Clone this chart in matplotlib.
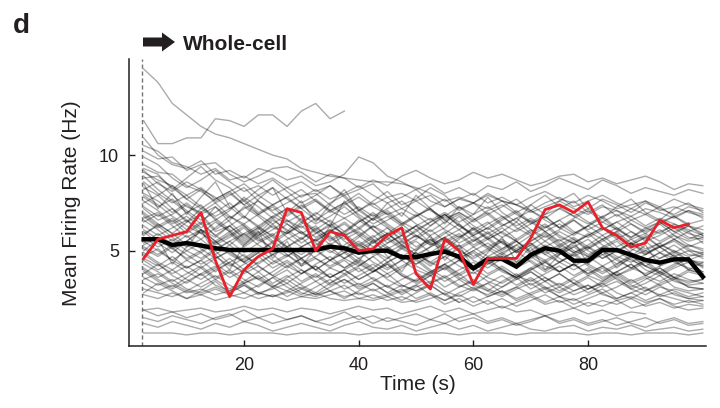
import matplotlib
matplotlib.use('Agg')

import numpy as np
import matplotlib.pyplot as plt
from matplotlib.patches import FancyArrow

plt.rcParams['font.family'] = ['Liberation Sans', 'DejaVu Sans']
TXT = '#231f20'

# time bins (s)
time = np.arange(2.5, 100.01, 2.5)

# example cell (red)
example_cell = [4.6, 5.6, 5.8, 6.0, 7.0, 4.5, 2.6, 4.0, 4.7, 5.1, 7.2, 7.0, 5.0, 6.0,
                5.8, 5.0, 5.1, 5.8, 6.2, 3.8, 3.0, 5.6, 5.0, 3.25, 4.6, 4.6, 4.6,
                5.65, 7.15, 7.4, 7.0, 7.55, 6.2, 5.8, 5.2, 5.4, 6.6, 6.2, 6.4]

# population mean (black)
mean_rate = [5.6, 5.6, 5.3, 5.4, 5.27, 5.13, 5.04, 5.04, 5.04, 5.04, 5.04, 5.04, 5.04,
             5.21, 5.13, 4.9, 5.0, 5.0, 4.66, 4.66, 4.83, 4.95, 4.69, 4.08, 4.57,
             4.57, 4.17, 4.78, 5.13, 5.0, 4.48, 4.48, 5.04, 5.04, 4.78, 4.52, 4.38,
             4.55, 4.55, 3.64]

# individual cells (grey)
cells = [
    [14.5, 13.8, 12.7, 12.1, 11.5, 11.1, 10.9, 10.6, 10.3, 10.0, 9.8, 9.3, 9.1, 8.9, 8.8, 8.7, 8.6, 8.6, 8.5, 8.3,
     8.0, 7.6, 7.8, 7.5, 7.9, 7.6, 7.4, 7.8, 8.1, 7.7, 7.5, 7.9, 7.6, 7.2, 7.4, 7.6, 7.1, 7.3, 7.0, 6.8],
    [11.8, 10.6, 10.6, 10.9, 10.9, 11.9, 11.8, 11.5, 12.1, 12.1, 11.5, 12.3, 12.7, 11.9, 12.3],
    [10.9, 10.0, 9.5, 9.3, 9.7, 9.0, 9.2, 8.8, 9.3, 9.1, 8.7, 8.9, 8.4, 8.6, 9.0, 9.9, 9.6, 8.9, 8.6, 8.2,
     8.5, 8.0, 8.3, 7.9, 8.4, 8.2, 8.6, 8.1, 8.4, 8.8, 8.5, 8.2, 8.7, 8.4, 8.0, 8.3, 8.1, 7.9, 8.2, 8.0],
    [10.5, 10.2, 9.6, 9.4, 9.0, 9.3, 8.7, 8.9, 8.5, 8.8, 8.3, 8.6, 8.1, 8.4, 7.9, 8.2, 8.5, 7.8, 8.0, 7.6,
     7.9, 7.3, 7.7, 7.5, 7.2, 7.6, 7.4, 7.0, 7.3, 7.6, 7.2, 6.9, 7.3, 7.1, 6.8, 7.2, 7.0, 6.7, 7.1, 6.9],
    [10.2, 9.8, 9.9, 9.2, 9.5, 9.6, 9.0, 8.6, 8.9, 9.3, 9.4, 9.1, 8.6, 9.0, 8.8, 8.3, 8.7, 8.4, 8.9, 9.2,
     8.8, 8.5, 8.7, 9.1, 8.8, 9.0, 8.7, 8.4, 8.6, 8.9, 9.0, 8.6, 8.8, 8.5, 8.7, 8.9, 8.6, 8.2, 8.5, 8.4],
    [9.9, 9.5, 8.8, 8.3, 8.7, 9.2, 8.6, 8.1, 8.4, 7.9, 8.3, 7.8, 8.2, 7.7, 8.0, 8.4, 7.9, 7.5, 7.8, 8.2,
     7.6, 7.3, 7.7, 8.0, 7.5, 7.8, 7.4, 7.1, 7.5, 7.8, 7.3, 7.6, 7.9, 7.5, 7.2, 7.6, 7.3, 7.7, 7.4, 7.2],
    [9.5, 9.1, 9.0, 8.4, 8.1, 7.6, 8.0, 7.4, 7.9, 8.3, 7.7, 7.2, 7.6, 7.0, 7.4, 7.8, 7.3, 6.9, 7.2, 7.6,
     7.1, 6.7, 7.0, 6.6, 7.1, 7.4, 6.9, 6.5, 6.9, 7.2, 6.8, 6.4, 6.8, 7.1, 6.6, 6.9, 6.5, 6.8, 6.4, 6.6],
    [9.2, 8.5, 8.1, 8.6, 8.2, 7.5, 7.9, 8.3, 7.6, 7.1, 7.5, 7.9, 8.0, 7.4, 6.9, 7.3, 6.8, 7.2, 7.6, 7.0,
     6.6, 7.0, 6.5, 6.9, 7.3, 6.8, 6.3, 6.7, 6.2, 6.6, 7.0, 6.5, 6.1, 6.5, 6.8, 6.3, 6.7, 6.4, 6.0, 6.3],
    [8.8, 8.9, 8.3, 7.7, 8.2, 7.8, 7.2, 7.7, 7.0, 7.4, 6.8, 7.3, 7.7, 7.1, 6.7, 7.1, 7.5, 6.9, 6.4, 6.8,
     7.2, 6.6, 7.0, 6.5, 6.9, 6.3, 6.7, 7.1, 6.6, 6.2, 6.6, 6.1, 6.5, 6.9, 6.4, 6.0, 6.4, 6.8, 6.3, 6.1],
    [8.6, 8.0, 7.5, 7.9, 7.3, 6.8, 7.2, 7.6, 6.9, 6.4, 6.9, 7.4, 6.8, 6.3, 6.7, 6.2, 6.7, 7.1, 6.5, 6.1,
     6.5, 6.9, 6.3, 5.9, 6.4, 6.8, 6.2, 5.8, 6.2, 6.6, 6.0, 5.7, 6.1, 6.5, 6.0, 5.6, 6.0, 6.3, 5.9, 5.7],
    [8.3, 7.9, 8.4, 7.7, 7.2, 7.7, 8.1, 7.4, 6.9, 7.4, 7.8, 7.2, 6.6, 7.1, 7.5, 6.9, 6.4, 6.8, 6.3, 6.8,
     7.2, 6.6, 6.1, 6.6, 7.0, 6.4, 6.0, 6.4, 6.8, 6.2, 5.8, 6.3, 6.7, 6.1, 5.7, 6.2, 6.5, 6.0, 5.6, 5.9],
    [8.0, 7.6, 7.0, 7.5, 6.9, 7.3, 6.7, 7.2, 7.6, 7.0, 6.5, 6.9, 6.4, 6.8, 7.3, 6.7, 6.2, 6.6, 7.0, 6.4,
     6.0, 6.5, 6.9, 6.3, 5.9, 6.3, 6.7, 6.1, 5.7, 6.1, 6.6, 6.0, 5.6, 6.0, 6.4, 5.9, 5.5, 5.9, 6.3, 5.8],
    [7.8, 7.3, 7.7, 7.1, 6.6, 7.0, 7.5, 6.8, 6.3, 6.8, 7.2, 6.6, 6.1, 6.6, 6.0, 6.5, 6.9, 6.3, 5.8, 6.3,
     6.7, 6.1, 5.7, 6.1, 6.5, 5.9, 5.5, 6.0, 6.4, 5.8, 5.4, 5.8, 6.2, 5.7, 5.3, 5.7, 6.1, 5.6, 5.2, 5.5],
    [7.5, 7.9, 7.2, 6.5, 6.9, 6.1, 6.6, 7.3, 6.8, 6.2, 5.9, 6.4, 7.0, 6.5, 5.8, 6.1, 6.7, 6.2, 5.6, 6.0,
     6.5, 6.9, 6.3, 5.8, 6.2, 5.7, 6.1, 6.6, 6.0, 5.5, 5.9, 6.3, 5.8, 6.2, 5.6, 5.9, 6.4, 5.8, 5.5, 5.7],
    [7.2, 6.6, 6.9, 7.4, 6.8, 6.0, 6.3, 5.7, 6.2, 6.8, 6.4, 5.9, 6.3, 5.6, 6.0, 6.6, 6.1, 5.4, 5.8, 6.3,
     5.7, 5.2, 5.7, 6.2, 5.6, 6.0, 5.5, 5.0, 5.5, 6.0, 5.6, 5.1, 5.5, 5.9, 5.3, 5.7, 5.2, 5.6, 6.0, 5.4],
    [7.0, 6.4, 5.9, 6.5, 7.2, 6.7, 6.1, 5.5, 6.0, 5.4, 5.9, 6.5, 6.0, 5.3, 5.8, 6.2, 5.6, 5.1, 5.5, 6.1,
     5.4, 5.9, 6.4, 5.7, 5.2, 5.6, 5.1, 5.5, 6.0, 5.4, 4.9, 5.3, 5.8, 5.2, 5.6, 5.1, 5.4, 4.9, 5.3, 5.0],
    [6.8, 6.2, 6.6, 5.9, 6.4, 7.3, 6.5, 5.8, 6.2, 5.5, 6.0, 6.7, 5.9, 6.3, 7.6, 6.8, 6.1, 5.6, 6.2, 5.7,
     6.3, 6.9, 6.4, 5.8, 6.2, 6.7, 7.1, 6.5, 6.0, 6.4, 5.9, 6.3, 6.8, 6.2, 5.7, 6.1, 6.5, 6.0, 6.3, 5.9],
    [6.5, 6.9, 6.3, 5.7, 6.1, 5.5, 6.0, 5.3, 5.8, 6.4, 5.7, 5.2, 5.6, 6.1, 5.5, 5.0, 5.4, 5.9, 5.3, 4.8,
     5.2, 5.7, 5.1, 5.5, 6.0, 5.4, 4.9, 5.3, 5.8, 5.2, 4.7, 5.1, 5.6, 5.0, 5.4, 4.9, 5.2, 5.6, 5.1, 4.8],
    [6.3, 5.8, 6.2, 6.6, 5.9, 5.4, 5.8, 6.3, 5.6, 5.1, 5.6, 6.0, 5.4, 4.9, 5.3, 5.8, 5.2, 5.6, 5.1, 4.7,
     5.2, 5.6, 5.0, 4.6, 5.0, 5.5, 4.9, 5.3, 4.8, 5.2, 5.6, 5.0, 4.6, 5.0, 5.4, 4.8, 5.2, 4.7, 5.0, 4.6],
    [6.1, 5.6, 5.1, 5.5, 6.0, 5.3, 5.7, 6.2, 5.5, 5.9, 5.2, 4.8, 5.3, 5.8, 5.1, 5.5, 5.0, 4.6, 5.1, 5.5,
     4.9, 5.4, 5.8, 5.2, 4.7, 5.1, 5.5, 4.9, 4.5, 4.9, 5.3, 4.8, 5.2, 4.7, 4.4, 4.8, 5.2, 4.7, 4.5, 4.3],
    [5.9, 6.3, 5.7, 5.2, 5.6, 5.0, 5.5, 5.9, 5.3, 4.8, 5.2, 5.7, 5.0, 5.4, 4.9, 5.3, 5.8, 5.2, 4.7, 5.1,
     5.6, 5.0, 4.6, 5.0, 5.4, 4.9, 5.3, 4.8, 4.4, 4.8, 5.2, 4.7, 5.1, 5.5, 4.9, 4.5, 4.9, 4.6, 4.4, 4.2],
    [5.7, 5.2, 5.6, 5.0, 4.6, 5.1, 5.5, 4.9, 5.4, 5.8, 5.1, 4.6, 5.0, 4.5, 4.9, 5.4, 4.8, 5.2, 4.7, 4.3,
     4.8, 5.2, 4.6, 5.0, 4.5, 4.9, 4.4, 4.8, 5.2, 4.6, 4.2, 4.6, 5.0, 4.5, 4.1, 4.5, 4.9, 4.4, 4.1, 3.9],
    [5.5, 5.0, 4.5, 5.0, 5.4, 4.8, 5.3, 4.7, 4.3, 4.8, 5.2, 4.6, 5.1, 4.5, 4.1, 4.6, 5.0, 4.4, 4.8, 4.3,
     4.7, 5.1, 4.5, 4.0, 4.4, 4.8, 4.3, 4.7, 4.2, 3.9, 4.3, 4.7, 4.2, 4.6, 4.1, 3.8, 4.2, 4.5, 4.0, 3.8],
    [5.3, 5.7, 5.1, 4.6, 5.0, 5.5, 4.8, 4.4, 4.9, 4.3, 4.7, 5.2, 4.6, 4.2, 4.6, 5.0, 4.4, 4.0, 4.5, 4.9,
     4.3, 4.7, 4.2, 3.8, 4.3, 4.7, 4.1, 4.5, 4.0, 4.4, 4.8, 4.2, 3.8, 4.2, 4.6, 4.0, 3.7, 4.1, 4.4, 3.9],
    [5.1, 4.7, 5.2, 4.5, 4.1, 4.6, 5.0, 4.4, 3.9, 4.4, 4.8, 4.2, 4.6, 4.1, 3.8, 4.2, 4.7, 4.1, 4.5, 4.0,
     3.7, 4.1, 4.5, 4.0, 4.4, 3.9, 3.6, 4.0, 4.4, 3.9, 4.3, 3.8, 4.2, 3.7, 4.0, 4.4, 3.8, 3.5, 3.9, 3.7],
    [4.9, 4.4, 4.0, 4.5, 4.9, 4.3, 3.8, 4.3, 4.7, 4.1, 4.5, 4.0, 3.6, 4.1, 4.5, 3.9, 4.3, 3.8, 4.2, 4.6,
     4.0, 3.6, 4.0, 4.4, 3.8, 4.2, 3.7, 3.4, 3.8, 4.2, 3.7, 4.1, 3.6, 3.9, 4.3, 3.7, 3.4, 3.8, 3.5, 3.3],
    [4.7, 5.1, 4.5, 4.1, 4.5, 3.9, 4.4, 4.8, 4.2, 3.7, 4.2, 4.6, 4.0, 3.6, 4.0, 4.4, 3.9, 4.3, 3.7, 3.4,
     3.9, 4.3, 3.7, 4.1, 3.6, 3.3, 3.7, 4.1, 3.6, 3.2, 3.6, 4.0, 3.5, 3.9, 3.4, 3.7, 4.1, 3.6, 3.3, 3.5],
    [4.5, 4.0, 4.4, 3.9, 3.5, 4.0, 4.4, 3.8, 4.2, 3.7, 3.3, 3.8, 4.2, 3.6, 4.0, 3.5, 3.9, 4.3, 3.7, 3.3,
     3.7, 4.1, 3.5, 3.9, 3.4, 3.1, 3.5, 3.9, 3.4, 3.8, 3.3, 3.0, 3.4, 3.8, 3.3, 3.6, 3.2, 3.5, 3.1, 3.0],
    [4.3, 3.9, 3.4, 3.8, 4.2, 3.6, 4.0, 3.5, 3.1, 3.6, 4.0, 3.4, 3.8, 3.3, 3.7, 4.1, 3.5, 3.1, 3.5, 3.9,
     3.3, 3.7, 3.2, 2.9, 3.3, 3.7, 3.2, 3.6, 3.1, 2.8, 3.2, 3.6, 3.1, 3.4, 3.0, 3.3, 3.7, 3.1, 2.9, 3.0],
    [4.1, 3.6, 4.0, 3.5, 3.1, 3.5, 3.9, 3.3, 3.7, 3.2, 2.9, 3.3, 3.7, 3.2, 3.5, 3.1, 3.4, 3.8, 3.2, 2.9,
     3.3, 3.6, 3.1, 3.5, 3.0, 2.7, 3.1, 3.5, 3.0, 3.3, 2.9, 3.2, 2.8, 3.1, 3.5, 3.0, 2.7, 3.0, 2.8, 2.6],
    [3.9, 3.4, 3.0, 3.4, 3.8, 3.2, 2.9, 3.3, 3.6, 3.1, 3.5, 3.0, 2.7, 3.1, 3.5, 3.0, 3.3, 2.8, 3.2, 2.9,
     3.2, 2.7, 3.1, 3.4, 2.9, 2.6, 3.0, 3.3, 2.8, 3.1, 2.7, 3.0, 3.3, 2.8, 2.5, 2.9, 3.2, 2.7, 2.5, 2.6],
    [3.6, 3.2, 3.5, 3.0, 2.8, 3.1, 2.8, 3.2, 2.8, 3.0, 3.3, 2.8, 2.6, 2.9, 3.2, 2.7, 3.0, 2.6, 2.9, 3.2,
     2.7, 2.4, 2.8, 3.1, 2.6, 2.9, 2.5, 2.8, 3.1, 2.6, 2.4, 2.7, 3.0, 2.5, 2.8, 2.4, 2.7, 2.5, 2.3, 2.4],
    [3.3, 2.9, 3.2, 2.8, 3.0, 2.7, 2.9, 3.3, 2.8, 2.6, 2.8, 3.1, 2.7, 2.9, 2.6, 2.8, 2.5, 2.7, 3.0, 2.5,
     2.8, 2.4, 2.7, 2.3, 2.6, 2.9, 2.4, 2.7, 2.3, 2.6, 2.2, 2.5, 2.8, 2.4, 2.6, 2.3, 2.5, 2.2, 2.4, 2.2],
    [3.0, 2.8, 2.6, 2.9, 2.7, 3.0, 2.7, 2.5, 2.8, 2.6, 2.9, 2.6, 2.5, 2.7, 2.9, 2.5, 2.7, 2.4, 2.6, 2.3,
     2.5, 2.8, 2.3, 2.6, 2.2, 2.5, 2.1, 2.4, 2.7, 2.3, 2.5, 2.1, 2.4, 2.2, 2.5, 2.1, 2.3, 2.0, 2.2, 2.1],
    [2.7, 2.5, 2.8, 2.5, 2.7, 2.4, 2.6, 2.8, 2.5, 2.7, 2.4, 2.6, 2.8, 2.5, 2.4, 2.5, 2.4, 2.6, 2.3, 2.4,
     2.7, 2.2, 2.5, 2.1, 2.4, 2.0, 2.3, 2.6, 2.2, 2.4, 2.0, 2.3, 2.1, 2.4, 2.0, 2.2, 2.5, 2.1, 1.9, 2.0],
    [1.5, 1.3, 1.6, 1.4, 1.2, 1.5, 1.7, 1.3, 1.5, 1.2, 1.4, 1.6, 1.3, 1.1, 1.4, 1.6, 1.2, 1.5, 1.3, 1.1,
     1.4, 1.7, 1.3, 1.5, 1.2, 1.4, 1.1, 1.3, 1.6, 1.2, 1.4, 1.1, 1.3, 1.5, 1.2, 1.0, 1.3, 1.5, 1.2, 1.3],
    [1.2, 1.0, 1.3, 1.1, 0.9, 1.2, 1.0, 1.3, 1.1, 0.8, 1.0, 1.2, 1.0, 0.8, 1.1, 1.3, 1.0, 0.9, 1.1, 0.8,
     1.0, 1.2, 0.9, 1.1, 0.8, 1.0, 1.2, 0.9, 0.8, 1.0, 1.1, 0.8, 1.0, 0.9, 1.1, 0.8, 0.9, 1.0, 0.8, 0.9],
    [0.7, 0.7, 0.7, 0.6, 0.7, 0.7, 0.6, 0.7, 0.7, 0.7, 0.6, 0.7, 0.7, 0.7, 0.7, 0.6, 0.7, 0.7, 0.7, 0.6,
     0.7, 0.7, 0.6, 0.7, 0.7, 0.7, 0.6, 0.7, 0.7, 0.7, 0.7, 0.6, 0.7, 0.7, 0.6, 0.7, 0.7, 0.7, 0.6, 0.7],
    [1.9, 1.6, 1.8, 1.5, 1.7, 1.4, 1.6, 1.9, 1.5, 1.7, 1.4, 1.6, 1.3, 1.5, 1.8, 1.4, 1.6, 1.3, 1.5, 1.7,
     1.4, 1.2, 1.5, 1.7, 1.3, 1.5, 1.2, 1.4, 1.6, 1.3, 1.5, 1.2, 1.4, 1.1, 1.3, 1.5, 1.2, 1.4, 1.1, 1.2],
    [8.2, 8.6, 7.9, 7.3, 7.0, 7.5, 6.8, 6.4, 6.9, 7.3, 6.6, 6.2, 6.7, 6.3, 5.9, 6.5, 7.0, 6.4, 5.9, 6.3,
     5.8, 6.2, 6.8, 6.1, 5.6, 6.0, 6.5, 5.9, 6.3, 5.7, 5.4, 5.8, 6.2, 5.6, 6.0, 5.5, 5.8, 6.2, 5.7, 5.6],
    [7.3, 6.8, 7.2, 6.6, 6.1, 5.7, 6.3, 6.8, 6.2, 5.8, 6.4, 5.9, 5.5, 6.0, 6.5, 5.9, 5.4, 5.9, 6.4, 5.8,
     5.3, 5.7, 6.1, 5.5, 5.9, 5.4, 5.0, 5.5, 5.9, 5.3, 5.7, 5.2, 5.6, 6.0, 5.4, 5.0, 5.4, 5.8, 5.3, 5.1],
    [6.6, 6.1, 5.5, 6.0, 6.5, 5.8, 5.3, 5.9, 6.3, 5.7, 5.2, 5.6, 6.1, 5.5, 5.9, 5.3, 4.9, 5.4, 5.8, 5.2,
     5.6, 5.1, 4.7, 5.2, 5.6, 5.0, 5.5, 4.9, 5.3, 4.8, 5.2, 5.6, 5.0, 4.6, 5.0, 5.5, 4.9, 5.3, 4.8, 4.7],
    [5.8, 6.4, 5.9, 5.3, 4.9, 5.4, 5.9, 5.2, 5.7, 5.1, 4.7, 5.2, 5.6, 5.0, 4.6, 5.1, 5.5, 4.9, 5.3, 4.8,
     4.4, 4.9, 5.3, 4.7, 5.1, 4.6, 5.0, 5.4, 4.8, 4.4, 4.8, 5.2, 4.6, 5.0, 4.5, 4.2, 4.6, 5.0, 4.5, 4.4],
    [5.2, 4.8, 5.3, 5.8, 5.1, 4.6, 5.0, 4.5, 5.0, 5.4, 4.8, 4.3, 4.7, 5.2, 4.6, 4.2, 4.7, 5.1, 4.5, 4.9,
     4.4, 4.0, 4.5, 4.9, 4.3, 4.7, 4.2, 4.6, 5.0, 4.4, 4.0, 4.4, 4.8, 4.3, 4.7, 4.2, 3.9, 4.3, 4.6, 4.2],
    [4.6, 4.2, 4.7, 4.1, 4.5, 5.0, 4.3, 3.9, 4.4, 4.8, 4.2, 3.8, 4.3, 4.7, 4.1, 4.5, 4.0, 3.6, 4.1, 4.5,
     3.9, 4.3, 3.8, 4.2, 4.6, 4.0, 3.6, 4.0, 4.4, 3.9, 4.3, 3.7, 3.4, 3.9, 4.3, 3.7, 4.1, 3.6, 3.4, 3.5],
    [3.8, 4.3, 3.7, 3.3, 3.8, 4.2, 3.6, 4.0, 3.5, 3.1, 3.6, 4.0, 3.4, 3.8, 3.3, 3.7, 4.1, 3.5, 3.1, 3.5,
     3.9, 3.4, 3.8, 3.2, 2.9, 3.4, 3.8, 3.2, 3.6, 3.1, 3.5, 3.0, 3.3, 3.7, 3.2, 2.9, 3.3, 3.6, 3.1, 3.0],
    [6.9, 6.3, 6.7, 6.1, 5.6, 6.2, 6.8, 6.3, 5.7, 6.1, 6.6, 6.0, 5.5, 6.0, 6.4, 5.8, 6.3, 5.7, 5.2, 5.6,
     6.1, 5.5, 5.9, 5.3, 5.7, 6.2, 5.6],
    [2.8, 3.3, 2.9, 2.5, 2.9, 3.4, 2.8, 3.2, 2.7, 3.1, 2.6, 3.0, 3.4, 2.9, 2.5, 2.9, 3.3, 2.8, 2.4, 2.8,
     3.2, 2.7, 2.3],
    [9.3, 9.0, 8.2, 8.8, 9.4, 8.7, 8.3, 7.6, 8.2, 8.7, 8.1, 7.5, 7.9, 8.4, 7.8, 7.1, 7.6, 8.1, 7.4, 7.7,
     8.3, 7.9, 7.2, 7.5, 8.0, 7.6, 7.0, 7.4, 7.9, 7.3, 6.8, 7.2, 7.7, 7.4, 7.0, 7.5, 7.2, 6.9, 7.3, 7.1],
    [8.9, 8.2, 7.6, 7.0, 7.4, 6.6, 7.1, 7.8, 7.3, 6.7, 7.2, 6.5, 6.9, 7.5, 7.9, 7.2, 6.6, 7.0, 6.4, 6.9,
     6.3, 6.8, 7.3, 6.7, 6.1, 6.6, 7.0, 6.4, 6.8, 6.2, 6.7, 7.1, 6.5, 6.1, 6.6, 6.2, 5.9, 6.4, 6.1, 5.8],
    [7.9, 7.4, 6.8, 6.3, 5.9, 6.5, 6.0, 5.4, 5.9, 6.6, 6.1, 5.6, 6.2, 5.7, 5.1, 5.7, 6.3, 5.9, 5.3, 5.8,
     5.4, 5.0, 5.6, 6.2, 5.7, 5.1, 5.6, 6.1, 5.5, 5.0, 5.4, 5.9, 5.3, 4.9, 5.4, 5.8, 5.2, 5.5, 5.0, 4.9],
    [7.6, 7.1, 6.5, 7.0, 6.4, 5.8, 6.3, 5.6, 6.1, 6.7, 6.0, 5.4, 5.9, 6.4, 5.8, 5.2, 5.7, 6.2, 5.5, 5.0,
     5.5, 6.0, 5.4, 5.8, 5.2, 4.8, 5.3, 5.8, 5.2, 5.6, 5.0, 4.7, 5.2, 5.6, 5.1, 4.8, 5.3, 5.0, 4.7, 4.9],
    [6.7, 7.0, 6.4, 6.8, 6.2, 6.6, 6.0, 6.4, 5.8, 6.3, 5.9, 6.3, 5.7, 6.1, 5.6, 6.0, 5.5, 5.9, 5.4, 5.8,
     5.3, 5.7, 5.2, 5.6, 5.1, 5.5, 5.0, 5.4, 4.9, 5.3, 4.9, 5.2, 4.8, 5.1, 4.7, 5.0, 4.6, 4.9, 4.5, 4.8],
    [6.0, 5.4, 4.9, 5.5, 6.1, 5.5, 4.9, 4.4, 4.9, 5.5, 5.0, 4.5, 4.0, 4.5, 5.1, 4.6, 4.1, 4.6, 5.2, 4.7,
     4.2, 4.7, 5.1, 4.5, 4.1, 4.6, 5.0, 4.4, 3.9, 4.4, 4.9, 4.3, 3.9, 4.3, 4.8, 4.2, 3.8, 4.2, 4.6, 4.1],
    [5.4, 5.9, 5.3, 4.8, 4.3, 4.7, 4.2, 4.6, 5.1, 4.5, 4.1, 4.6, 4.0, 4.5, 4.9, 4.3, 3.9, 4.4, 4.8, 4.2,
     3.8, 4.3, 4.7, 4.1, 4.5, 4.0, 3.6, 4.1, 4.5, 3.9, 4.3, 3.8, 4.2, 3.7, 4.1, 4.5, 3.9, 3.6, 4.0, 3.8],
    [4.8, 4.3, 3.8, 4.2, 3.7, 4.1, 4.6, 4.0, 3.5, 3.9, 4.4, 3.8, 4.2, 3.6, 4.0, 3.5, 3.9, 4.4, 3.8, 3.4,
     3.8, 4.2, 3.6, 3.2, 3.7, 4.1, 3.5, 3.9, 3.4, 3.8, 3.3, 3.7, 4.1, 3.5, 3.1, 3.5, 3.9, 3.4, 3.2, 3.3],
    [4.0, 3.5, 3.1, 3.6, 4.1, 3.5, 3.0, 3.4, 3.9, 3.3, 3.7, 3.2, 2.8, 3.3, 3.8, 3.2, 3.6, 3.1, 2.8, 3.2,
     3.7, 3.1, 3.5, 3.0, 2.7, 3.1, 3.6, 3.0, 3.4, 2.9, 3.3, 2.8, 3.2, 3.6, 3.0, 2.7, 3.1, 2.9, 2.6, 2.8],
    [3.5, 3.8, 3.3, 2.9, 3.3, 3.7, 3.2, 2.8, 3.2, 3.6, 3.1, 2.7, 3.1, 3.5, 3.0, 3.3, 2.9, 3.2, 2.7, 3.1,
     3.4, 2.9, 2.6, 3.0, 3.3, 2.8, 3.1, 2.7, 3.0, 2.6, 2.9, 3.2, 2.7, 2.5, 2.8, 3.1, 2.6, 2.8, 2.5, 2.4],
    [5.0, 5.6, 4.3, 5.2, 6.1, 4.8, 4.0, 5.3, 6.0, 4.6, 5.5, 4.2, 5.1, 6.3, 5.0, 4.4, 5.6, 4.7, 3.9, 5.0,
     5.8, 4.5, 5.3, 4.1, 4.9, 5.7, 4.4, 5.2, 4.0, 4.8, 5.5, 4.3, 5.0, 4.1, 4.7, 5.3, 4.2, 4.8, 4.0, 4.4],
    [8.5, 7.2, 8.0, 6.9, 7.8, 8.6, 7.3, 6.7, 7.7, 8.3, 7.0, 7.6, 6.5, 7.4, 8.2, 7.1, 6.6, 7.5, 6.8, 7.9,
     7.2, 6.4, 7.3, 6.9, 7.8, 7.0, 6.5, 7.4, 6.9, 7.6, 8.0, 7.2, 6.7, 7.3, 7.7, 7.0, 6.6, 7.2, 7.5, 7.0],
    [9.1, 8.7, 8.4, 7.9, 8.3, 7.7, 8.1, 8.5, 7.9, 7.4, 7.8, 8.2, 7.6, 7.1, 7.5, 8.0, 7.4, 7.8, 7.2, 6.8,
     7.3, 7.7, 7.1, 7.5, 6.9, 7.3, 7.7, 7.1, 6.7, 7.2, 7.6, 7.0, 7.4, 6.8, 7.2, 6.9, 7.3, 6.8, 7.1, 6.7],
    [1.9, 2.0, 1.8, 1.9, 2.0, 1.8, 1.9, 2.1, 1.9, 2.0, 1.8, 2.0, 1.9, 1.7, 1.9, 2.1, 1.9, 2.0, 1.7, 1.9,
     2.1, 1.8, 2.0, 1.7, 1.9, 2.1, 1.8, 1.9, 1.6, 1.8, 2.0, 1.7, 1.9, 1.6, 1.8, 1.7],
]


def run():
    fig = plt.figure(figsize=(7.2, 4.08), dpi=100)
    ax = fig.add_axes([0.1796, 0.151, 0.8005, 0.7033])

    for c in cells:
        ax.plot(time[:len(c)], c, color='k', alpha=0.33, lw=1, zorder=2)

    ax.axvline(2.2, color='0.45', ls=(0, (3, 2)), lw=1, zorder=1)
    ax.plot(time, mean_rate, color='k', lw=3.2, zorder=4, solid_joinstyle='miter')
    ax.plot(time[:len(example_cell)], example_cell, color='#e8202a', lw=2, zorder=5)

    ax.set_xlim(0, 100.5)
    ax.set_ylim(0, 15)
    ax.set_xticks([20, 40, 60, 80])
    ax.set_yticks([5, 10])
    ax.tick_params(direction='in', length=4, width=1, labelsize=13, pad=7.5,
                   colors=TXT)
    for s in ['top', 'right']:
        ax.spines[s].set_visible(False)
    for s in ['left', 'bottom']:
        ax.spines[s].set_linewidth(1.1)
        ax.spines[s].set_color(TXT)

    ax.set_xlabel('Time (s)', fontsize=15, labelpad=1, color=TXT)
    ax.set_ylabel('Mean Firing Rate (Hz)', fontsize=15, labelpad=13, color=TXT)

    fig.text(0.018, 1 - 33 / 408, 'd', fontsize=20, fontweight='bold', va='baseline', color=TXT)
    arrow = FancyArrow(1.43, 3.66, 0.32, 0, width=0.09, head_width=0.19, head_length=0.13,
                       length_includes_head=True, color=TXT, lw=0, transform=fig.dpi_scale_trans)
    fig.patches.append(arrow)
    fig.text(183 / 720, 1 - 50 / 408, 'Whole-cell', fontsize=15, fontweight='bold',
             va='baseline', color=TXT)

    return fig


def main():
    fig = run()
    fig.savefig('out.png', dpi=100)


if __name__ == '__main__':
    main()
